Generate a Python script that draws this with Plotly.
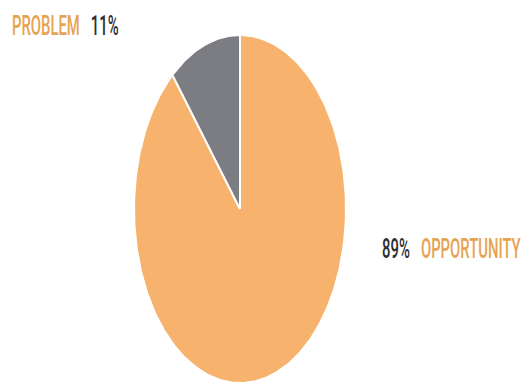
import math
import plotly.graph_objects as go

labels = ["OPPORTUNITY", "PROBLEM"]
values = [89, 11]
colors = ["#F7B36E", "#7B7D83"]

W, H = 525, 385
CX, CY, RX, RY = 240, 209, 106, 174  # ellipse placement in pixels (layout)

total = sum(values)
fig = go.Figure()
start = 0.0
for lab, val, col in zip(labels, values, colors):
    span = 360.0 * val / total
    n = max(int(span), 2)
    xs, ys = [0.0], [0.0]
    for i in range(n + 1):
        th = math.radians(start + span * i / n)
        xs.append(math.sin(th))
        ys.append(math.cos(th))
    xs.append(0.0)
    ys.append(0.0)
    fig.add_trace(go.Scatter(
        x=xs, y=ys, mode="lines", fill="toself", fillcolor=col,
        line=dict(color="white", width=2), name=lab, hoverinfo="skip",
        showlegend=False,
    ))
    start += span

pct = {lab: f"{round(100 * v / total)}%" for lab, v in zip(labels, values)}
FONT = "Roboto, Liberation Sans, sans-serif"
ORANGE_TXT = "#E6A352"
DARK_TXT = "#2E2E30"
GAP = "\u00a0\u00a0\u00a0"

fig.add_annotation(
    x=10 / W, y=1 - 25 / H, xref="paper", yref="paper", xanchor="left", yanchor="middle",
    text=f"<span style='color:{ORANGE_TXT}'>{labels[1]}</span>{GAP}<span style='color:{DARK_TXT}'>{pct[labels[1]]}</span>",
    showarrow=False, font=dict(family=FONT, size=28, weight=500),
)
fig.add_annotation(
    x=523 / W, y=1 - 248 / H, xref="paper", yref="paper", xanchor="right", yanchor="middle",
    text=f"<span style='color:{DARK_TXT}'>{pct[labels[0]]}</span>{GAP}<span style='color:{ORANGE_TXT}'>{labels[0]}</span>",
    showarrow=False, font=dict(family=FONT, size=28, weight=500),
)

fig.update_xaxes(range=[-CX / RX, (W - CX) / RX], visible=False, fixedrange=True)
fig.update_yaxes(range=[-(H - CY) / RY, CY / RY], visible=False, fixedrange=True)
fig.update_layout(
    width=W, height=H, margin=dict(l=0, r=0, t=0, b=0),
    paper_bgcolor="white", plot_bgcolor="white", hovermode=False,
)

post = """
document.body.style.margin = '0';
var gd = document.getElementById('{plot_id}');
var ts = gd.querySelectorAll('.annotation-text');
ts.forEach(function (t, i) {
  t.style.transformBox = 'fill-box';
  t.style.transformOrigin = (i === 0 ? '0% 50%' : '100% 50%');
  t.style.transform = 'scaleX(0.53)';
});
"""
fig.write_html("out.html", post_script=post, config={"displayModeBar": False, "staticPlot": True})
